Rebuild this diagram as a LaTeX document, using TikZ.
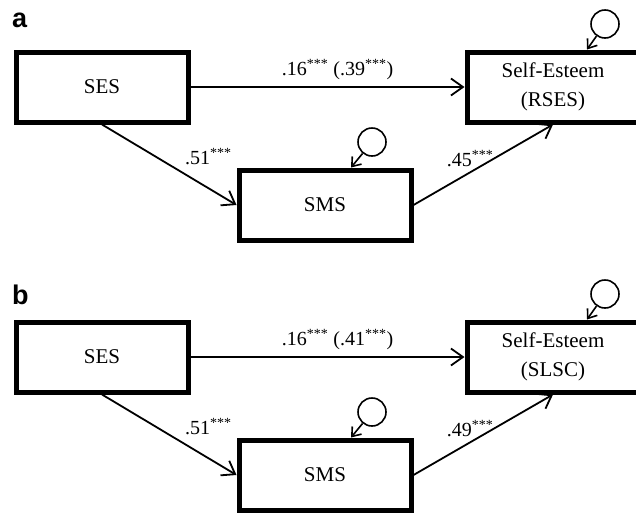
\documentclass[tikz,border=0pt]{standalone}
\usepackage{fontspec}
\setmainfont{Liberation Serif}
\setsansfont{Liberation Sans}
\usetikzlibrary{arrows.meta,positioning}

\tikzset{
  var/.style={draw, line width=5pt, minimum width=172pt, minimum height=70pt,
    align=center, font=\fontsize{21}{29}\selectfont},
  conn/.style={line width=1.8pt, -{Straight Barb[length=12pt,width=17pt,line width=1.8pt]}},
  resid/.style={draw, circle, line width=1.6pt, minimum size=28pt, inner sep=0pt},
  resarr/.style={line width=1.6pt, -{Straight Barb[length=8pt,width=12pt,line width=1.6pt]}},
  coef/.style={font=\fontsize{20}{24}\selectfont, inner sep=2pt},
  panel/.style={font=\fontsize{27}{30}\selectfont\sffamily\bfseries, inner sep=0pt},
}

\begin{document}
\begin{tikzpicture}[x=1pt, y=1pt]
  \useasboundingbox (0,0) rectangle (636,-512);

  % Modelo a
  \node[panel, anchor=base west] (labA) at (12,-27) {a};
  \node[var] (sesA) at (102,-87) {SES};
  \node[var] (seA) at (553,-87) {Self-Esteem\\(RSES)};
  \node[var] (smsA) at (325,-205) {SMS};

  % Residuos
  \node[resid] (eSeA) at (605,-24) {};
  \node[resid] (eSmsA) at (372,-142) {};
  \coordinate (inSeA) at ([xshift=34pt]seA.north);
  \coordinate (inSmsA) at ([xshift=26pt]smsA.north);

  % Caminos
  \draw[conn] (sesA) -- node[coef, above, xshift=10pt, yshift=4pt] (cDirA) {.16\textsuperscript{***} (.39\textsuperscript{***})} (seA);
  \draw[conn] (sesA.south) -- node[coef, anchor=south west, xshift=13pt, yshift=-3pt] (cSesA) {.51\textsuperscript{***}} (smsA.west);
  \draw[conn] (smsA.east) -- node[coef, anchor=south east, xshift=13pt, yshift=-5pt] (cSmsA) {.45\textsuperscript{***}} (seA.south);
  \draw[resarr] (eSeA) -- (inSeA);
  \draw[resarr] (eSmsA) -- (inSmsA);

  % Modelo b
  \node[panel, anchor=base west] (labB) at (12,-304) {b};
  \node[var] (sesB) at (102,-357) {SES};
  \node[var] (seB) at (553,-357) {Self-Esteem\\(SLSC)};
  \node[var] (smsB) at (325,-475) {SMS};

  % Residuos
  \node[resid] (eSeB) at (605,-294) {};
  \node[resid] (eSmsB) at (372,-412) {};
  \coordinate (inSeB) at ([xshift=34pt]seB.north);
  \coordinate (inSmsB) at ([xshift=26pt]smsB.north);

  % Caminos
  \draw[conn] (sesB) -- node[coef, above, xshift=10pt, yshift=4pt] (cDirB) {.16\textsuperscript{***} (.41\textsuperscript{***})} (seB);
  \draw[conn] (sesB.south) -- node[coef, anchor=south west, xshift=13pt, yshift=-3pt] (cSesB) {.51\textsuperscript{***}} (smsB.west);
  \draw[conn] (smsB.east) -- node[coef, anchor=south east, xshift=13pt, yshift=-5pt] (cSmsB) {.49\textsuperscript{***}} (seB.south);
  \draw[resarr] (eSeB) -- (inSeB);
  \draw[resarr] (eSmsB) -- (inSmsB);

\end{tikzpicture}
\end{document}
